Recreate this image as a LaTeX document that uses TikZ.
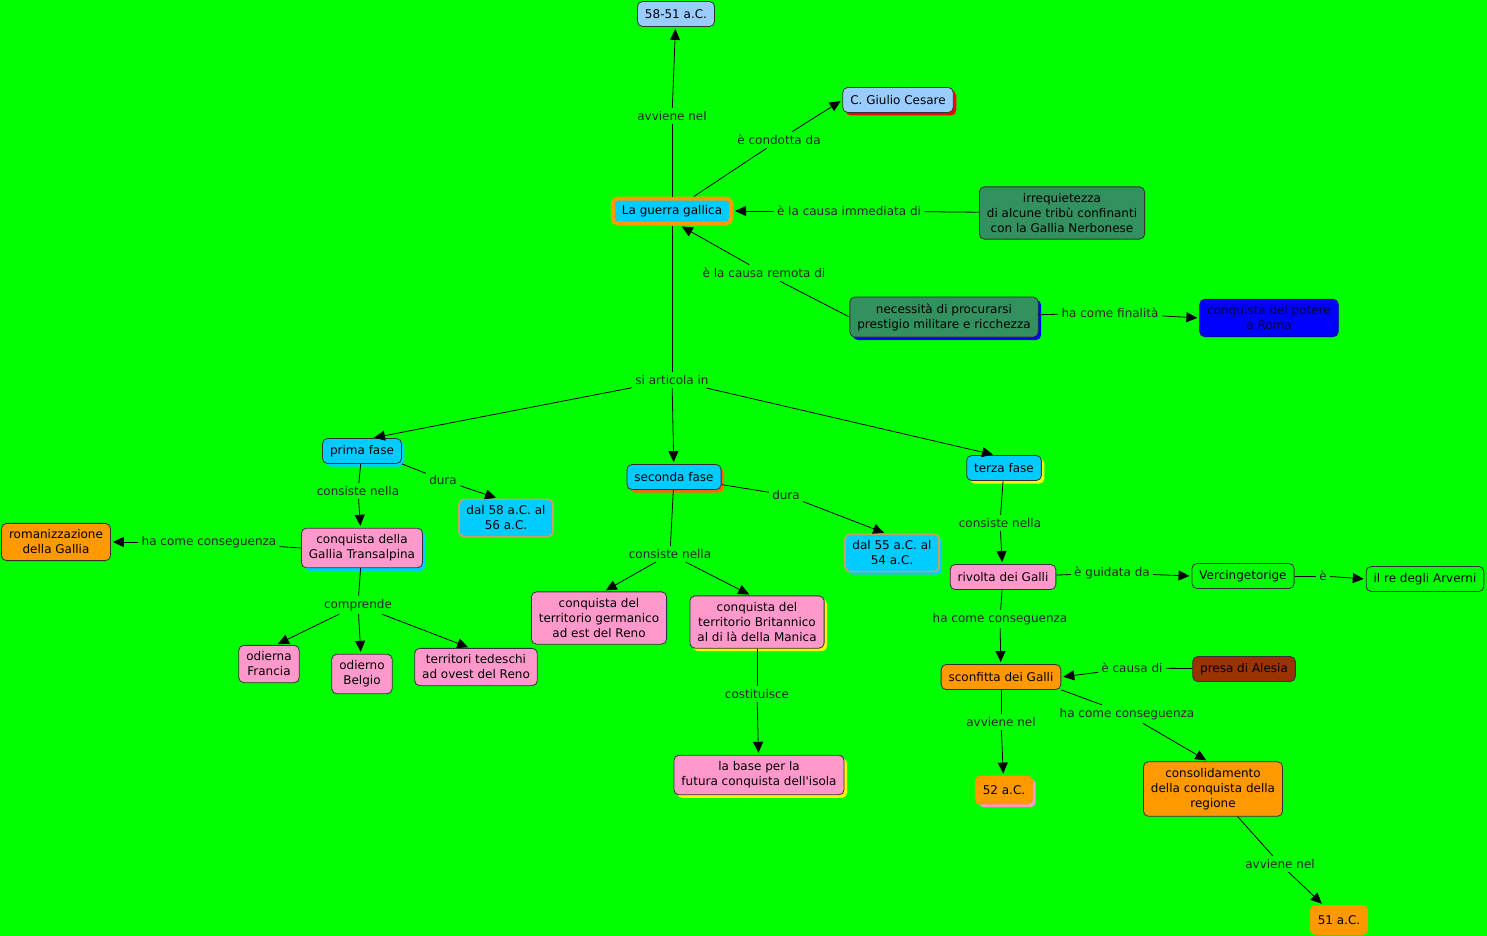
\documentclass[tikz,border=0pt]{standalone}
\usepackage{fontspec}
\setmainfont{DejaVu Sans}
\usetikzlibrary{arrows.meta,shadows}
\definecolor{bgg}{RGB}{0,255,0}
\definecolor{lblue}{RGB}{153,204,255}
\definecolor{cyanf}{RGB}{0,204,255}
\definecolor{pinkf}{RGB}{255,153,204}
\definecolor{orangef}{RGB}{255,153,0}
\definecolor{orred}{RGB}{255,102,0}
\definecolor{greenf}{RGB}{51,145,95}
\definecolor{brownf}{RGB}{153,51,0}
\definecolor{tanb}{RGB}{196,164,96}
\tikzset{
  every node/.style={font=\fontsize{12}{15}\selectfont},
  concept/.style={draw=black!80, line width=0.8pt, rounded corners=5pt,
    inner xsep=7.5pt, inner ysep=6.5pt, minimum height=25pt, align=center},
  lnk/.style={inner sep=3pt, text=black!85},
  arr/.style={-{Triangle[length=11pt,width=10pt]}, shorten >=2pt},
  sh/.style={drop shadow={shadow xshift=3pt,shadow yshift=-3pt,fill=#1,opacity=1}}
}
\begin{document}
\begin{tikzpicture}[x=1pt,y=-1pt,line width=0.8pt]
\fill[bgg] (0,0) rectangle (1487,936);
\useasboundingbox (0,0) rectangle (1487,936);
\node[concept,fill=lblue] (d5851) at (676,14){58-51 a.C.};
\node[concept,fill=lblue,sh=red] (ces) at (898,100){C. Giulio Cesare};
\node[concept,fill=cyanf,draw=orangef,line width=4pt,inner xsep=9pt] (gg) at (672,211){La guerra gallica};
\node[concept,fill=greenf] (irr) at (1062,213){irrequietezza\\di alcune tribù confinanti\\con la Gallia Nerbonese};
\node[concept,fill=greenf,sh=blue] (nec) at (944,317){necessità di procurarsi\\prestigio militare e ricchezza};
\node[concept,fill=blue,draw=blue!70!black,text=blue!25!black] (pot) at (1269,318){conquista del potere\\a Roma};
\node[concept,fill=cyanf,sh=cyanf] (f1) at (362,451){prima fase};
\node[concept,fill=cyanf,sh=orred] (f2) at (674,477){seconda fase};
\node[concept,fill=cyanf,sh=yellow] (f3) at (1004,468){terza fase};
\node[concept,fill=cyanf,draw=tanb,line width=1.6pt] (t1) at (506,518){dal 58 a.C. al\\56 a.C.};
\node[concept,fill=cyanf,draw=tanb,line width=1.6pt,sh=cyanf] (t2) at (892,553){dal 55 a.C. al\\54 a.C.};
\node[concept,fill=orangef] (rom) at (56,542){romanizzazione\\della Gallia};
\node[concept,fill=pinkf,sh=cyanf] (gt) at (362,548){conquista della\\Gallia Transalpina};
\node[concept,fill=pinkf] (fr) at (269,664){odierna\\Francia};
\node[concept,fill=pinkf] (be) at (362,674){odierno\\Belgio};
\node[concept,fill=pinkf] (td) at (476,667){territori tedeschi\\ad ovest del Reno};
\node[concept,fill=pinkf] (ge) at (599,618){conquista del\\territorio germanico\\ad est del Reno};
\node[concept,fill=pinkf,sh=yellow] (br) at (757,622){conquista del\\territorio Britannico\\al di là della Manica};
\node[concept,fill=pinkf,sh=yellow] (bs) at (759,775){la base per la\\futura conquista dell\textquotesingle isola};
\node[concept,fill=pinkf] (rv) at (1003,577){rivolta dei Galli};
\node[concept] (vg) at (1243,576){Vercingetorige};
\node[concept] (re) at (1425,579){il re degli Arverni};
\node[concept,fill=orangef] (sc) at (1001,677){sconfitta dei Galli};
\node[concept,fill=brownf] (al) at (1244,669){presa di Alesia};
\node[concept,fill=orangef,draw=orangef,minimum height=28pt,sh=pinkf] (a52) at (1004,790){52 a.C.};
\node[concept,fill=orangef] (con) at (1213,789){consolidamento\\della conquista della\\regione};
\node[concept,fill=orangef,draw=orangef,minimum height=29pt] (a51) at (1339,920){51 a.C.};
%
\node[lnk] (l1) at (672,116){avviene nel};
\node[lnk] (l2) at (779,140){è condotta da};
\node[lnk] (l3) at (849,211){è la causa immediata di};
\node[lnk] (l4) at (764,273){è la causa remota di};
\node[lnk] (l5) at (1110,313){ha come finalità};
\node[lnk] (l6) at (672,380){si articola in};
\node[lnk] (l7) at (358,491){consiste nella};
\node[lnk] (l8) at (443,480){dura};
\node[lnk] (l9) at (209,542){ha come conseguenza};
\node[lnk] (l10) at (358,605){comprende};
\node[lnk] (l11) at (670,554){consiste nella};
\node[lnk] (l12) at (786,495){dura};
\node[lnk] (l13) at (757,694){costituisce};
\node[lnk] (l14) at (1000,523){consiste nella};
\node[lnk] (l15) at (1112,573){è guidata da};
\node[lnk] (l16) at (1323,576){è};
\node[lnk] (l17) at (1000,619){ha come conseguenza};
\node[lnk] (l18) at (1132,668){è causa di};
\node[lnk] (l19) at (1001,722){avviene nel};
\node[lnk] (l20) at (1127,714){ha come conseguenza};
\node[lnk] (l21) at (1280,864){avviene nel};
%
\draw (gg)--(l1); \draw[arr] (l1)--(d5851);
\draw (gg)--(l2); \draw[arr] (l2)--(ces.west);
\draw (irr)--(l3); \draw[arr] (l3)--(gg.east);
\draw (nec.west)--(l4); \draw[arr] (l4)--([xshift=8pt]gg.south);
\draw (nec)--(l5); \draw[arr] (l5)--(pot.west);
\draw (gg)--(l6);
\draw[arr] (l6)--([xshift=10pt]f1.north);
\draw[arr] (l6)--(f2);
\draw[arr] (l6)--([xshift=-9pt]f3.north);
\draw (f1)--(l7); \draw[arr] (l7)--(gt);
\draw (f1.south east)--(l8); \draw[arr] (l8)--([xshift=-8pt]t1.north);
\draw (gt.west)--(l9); \draw[arr] (l9)--(rom.east);
\draw (gt)--(l10);
\draw[arr] (l10)--([xshift=7pt]fr.north);
\draw[arr] (l10)--(be);
\draw[arr] (l10)--([xshift=-6pt]td.north);
\draw (f2)--(l11);
\draw[arr] (l11)--([xshift=5pt]ge.north);
\draw[arr] (l11)--([xshift=-6pt]br.north);
\draw (f2)--(l12); \draw[arr] (l12)--([xshift=-6pt]t2.north);
\draw (br)--(l13); \draw[arr] (l13)--(bs);
\draw (f3)--(l14); \draw[arr] (l14)--(rv);
\draw (rv)--(l15); \draw[arr] (l15)--(vg.west);
\draw (vg)--(l16); \draw[arr] (l16)--(re.west);
\draw (rv)--(l17); \draw[arr] (l17)--(sc);
\draw (al)--(l18); \draw[arr] (l18)--(sc.east);
\draw (sc)--(l19); \draw[arr] (l19)--(a52);
\draw (sc.south east)--(l20); \draw[arr] (l20)--([xshift=-5pt]con.north);
\draw (con)--(l21); \draw[arr] (l21)--(a51);

\end{tikzpicture}
\end{document}
